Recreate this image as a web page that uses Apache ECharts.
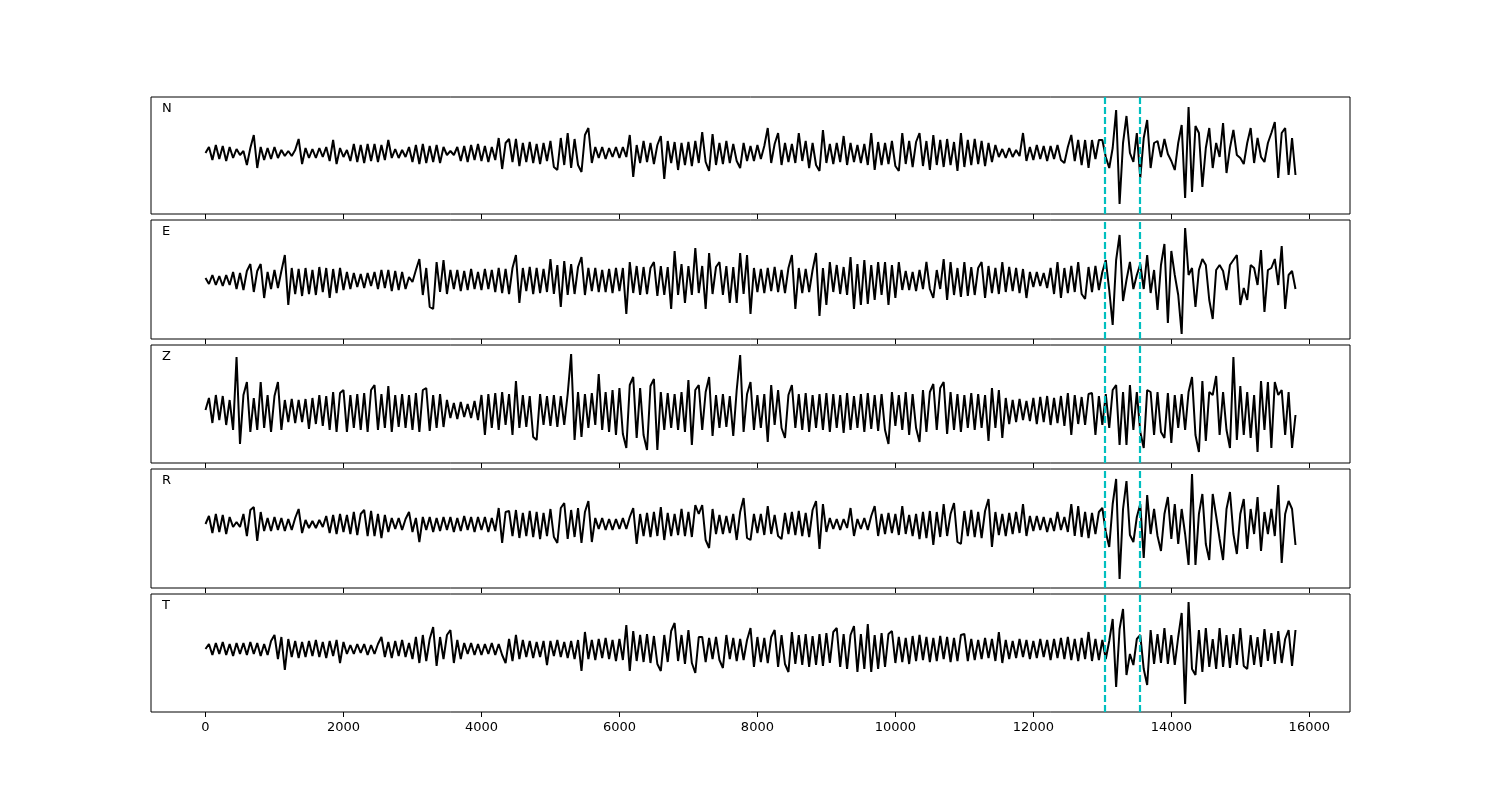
<!DOCTYPE html>
<html><head><meta charset="utf-8">
<script src="https://cdn.jsdelivr.net/npm/echarts@6/dist/echarts.min.js"></script>
<style>html,body{margin:0;padding:0;background:#fff}#chart{width:1500px;height:800px}</style>
</head><body><div id="chart"></div>
<script>
const componentNames = ['N', 'E', 'Z', 'R', 'T'];
const sampleInterval = 50; // time units between samples, first sample at 0
const xTickValues = [0, 2000, 4000, 6000, 8000, 10000, 12000, 14000, 16000];
const pickTimes = [13040, 13540];

const traceN = [
  0, 6, -7, 8, -6, 7, -8, 6, -5, 4,
  -2, 2, -12, 5, 18, -15, 6, -7, 5, -6,
  6, -5, 3, -3, 2, -3, 3, 14, -11, 5,
  -5, 4, -5, 5, -4, 6, -8, 13, -11, 5,
  -4, 3, -8, 9, -9, 8, -10, 9, -8, 9,
  -9, 8, -7, 13, -5, 4, -5, 3, -4, 6,
  -9, 8, -11, 9, -10, 7, -9, 8, -10, 6,
  -2, 2, -2, 6, -8, 7, -9, 8, -7, 9,
  -8, 7, -9, 6, -7, 15, -16, 10, 14, -9,
  14, -13, 10, -9, 11, -10, 9, -11, 10, -8,
  12, -14, -17, 15, -12, 20, -15, 14, -12, -19,
  18, 25, -10, 6, -5, 6, -6, 5, -4, 6,
  -5, 6, -4, 18, -24, 8, -10, 12, -9, 10,
  -11, 8, 17, -26, 12, -10, 11, -17, 10, -12,
  11, -13, 12, -10, 21, -9, -18, 19, -12, 10,
  -11, 12, -10, 9, -8, -15, 10, -8, 7, -8,
  8, -6, 7, 25, -10, 9, 20, -12, 10, -9,
  9, -10, 20, -8, 12, -15, 10, -12, -18, 23,
  -10, 9, -11, 10, -9, 17, -12, 10, -9, 8,
  -10, 9, -12, 20, -17, 11, -12, 10, -11, 12,
  -13, -18, 20, -11, 12, -14, 11, 20, -13, 12,
  -17, 18, -12, 13, -14, 14, -12, 11, -18, 20,
  -14, 13, -12, 14, -11, 12, -13, 10, -9, 8,
  -4, 4, -5, 5, -4, 3, -3, 20, -8, 6,
  -7, 8, -6, 7, -8, 7, -6, 8, -7, -10,
  6, 18, -8, 13, -12, 13, -15, 13, -6, 13,
  13, -4, -15, 5, 43, -51, 10, 37, 0, -9,
  20, -25, 15, 33, -15, 10, 12, -4, 14, -1,
  -8, -17, 10, 28, -45, 46, -39, 27, 20, -34,
  5, 25, -15, 10, -4, 30, -20, 5, 23, -2,
  -5, -11, 10, 25, -10, 15, -4, -9, 10, 20,
  31, -25, 20, 25, -22, 15, -22
];

const traceE = [
  2, -4, 5, -5, 4, -6, 5, -5, 8, -9,
  7, -10, 9, 16, -12, 9, 16, -18, 8, -9,
  10, -8, 9, 25, -25, 12, -14, 11, -16, 12,
  -14, 10, -15, 13, -12, 12, -18, 11, -13, 12,
  -10, 8, -9, 7, -7, 6, -8, 7, -6, 8,
  -9, 10, -8, 10, -11, 9, -10, 8, -9, 3,
  -2, 10, 21, -15, 12, -27, -29, 18, -12, 20,
  -14, 10, -9, 10, -11, 9, -10, 11, -9, 8,
  -10, 11, -9, 10, -12, 12, -13, 11, -14, 12,
  25, -23, 12, -11, 13, -14, 12, -13, 11, -12,
  21, -14, 15, -27, 19, -15, 16, -14, 13, 23,
  -15, 12, -11, 12, -12, 10, -12, 11, -13, 12,
  -11, 12, -34, 18, -13, 14, -15, 13, -14, 12,
  18, -16, 14, -15, 13, -29, 29, -15, 16, -23,
  14, -15, 32, -13, 14, -29, 27, -14, 13, 18,
  -15, 14, -23, 13, -23, 27, -14, 25, -34, 12,
  -12, 11, -13, 12, -11, 13, -12, 10, -13, 12,
  25, -29, 12, -13, 11, -12, 10, 27, -36, 12,
  -25, 18, -12, 15, -14, 13, -15, 23, -29, 16,
  -25, 20, -24, 15, -20, 18, -15, 18, -25, 15,
  -18, 18, -10, 9, -10, 8, -11, 10, -9, 18,
  -9, -18, 10, -9, 21, -20, 18, -15, 12, -17,
  18, -16, 13, -15, 12, 18, -18, 14, -13, 12,
  -14, 18, -12, 13, -11, 12, -13, 11, -18, 8,
  -7, 8, -6, 7, -8, 12, -14, 18, -18, 12,
  -13, 14, -12, 18, -14, -19, 13, -12, 14, -10,
  8, 20, -10, -45, 20, 45, -21, 0, 18, -9,
  5, 16, -9, 25, -13, 10, -30, 15, 36, -43,
  29, 5, -15, -54, 52, 5, 12, -27, 10, 21,
  15, -20, -39, 10, 15, 9, -10, 15, 20, 25,
  -25, -8, -20, 15, 12, -5, 30, -32, 10, 12,
  21, -5, 34, -29, 5, 9, -9
];

const traceZ = [
  0, 12, -13, 15, -10, 14, -15, 10, -20, 53,
  -34, 15, 28, -22, 12, -20, 28, -18, 15, -22,
  14, 28, -20, 10, -12, 11, -13, 10, -12, 11,
  -19, 12, -14, 15, -16, 14, -20, 18, -22, 17,
  20, -22, 15, -18, 16, -20, 17, -22, 20, 25,
  -20, 16, -18, 24, -22, 15, -17, 16, -18, 15,
  -20, 17, -22, 20, 22, -21, 15, -18, 16, -17,
  10, -8, 7, -9, 8, -7, 6, -8, 9, -10,
  15, -25, 16, -18, 17, -20, 18, -15, 16, -25,
  29, -18, 15, -17, 14, -27, -30, 16, -15, 14,
  -16, 15, -17, 14, -15, 16, 56, -30, 18, -27,
  16, -18, 17, -15, 36, -20, 18, -22, 20, -25,
  22, -24, -38, 25, 33, -28, 22, -25, -40, 24,
  31, -40, 18, -20, 17, -18, 16, -20, 18, -22,
  30, -35, 20, 25, -20, 18, 33, -26, 15, -18,
  16, -17, 14, -26, 20, 55, -22, 16, 28, -20,
  15, -18, 16, -32, 25, -15, 20, -18, -28, 15,
  25, -18, 16, -20, 17, -22, 15, -18, 16, -20,
  17, -22, 16, -18, 15, -23, 17, -20, 14, -18,
  16, -22, 17, -19, 15, -21, 16, -20, -34, 18,
  -16, 15, -20, 18, -25, 16, -18, -32, 20, -22,
  18, 26, -20, 22, 28, -24, 18, -20, 16, -22,
  15, -18, 17, -20, 16, -18, 15, -31, 22, -18,
  20, -28, 12, -14, 10, -12, 11, -10, 9, -11,
  12, -14, 13, -12, 14, -15, 12, -13, 14, -16,
  17, -25, 15, -14, 13, -15, 16, 17, -25, 14,
  -15, 16, -18, 20, 25, -35, 18, -35, 25, -20,
  18, -22, -38, 20, 18, -25, 18, -22, -28, 17,
  -33, 15, -18, 16, -20, 18, 33, -25, -42, 29,
  -31, 18, 15, 34, -25, 18, -20, -38, 53, -30,
  24, -25, 18, -28, 15, -42, 29, -20, 28, -38,
  28, 15, 20, -25, 18, -38, -5
];

const traceR = [
  0, 8, -9, 10, -8, 9, -10, 7, -3, 2,
  -3, 10, -12, 14, 17, -17, 12, -7, 6, -7,
  7, -6, 6, -7, 5, -6, 6, 15, -9, 4,
  -4, 3, -4, 4, -3, 8, -9, 9, -10, 10,
  -8, 9, -10, 12, -11, 10, 14, -12, 13, -12,
  10, -14, 9, -8, 6, -5, 6, -6, 5, 12,
  -8, 6, -18, 7, -6, 7, -8, 6, -7, 7,
  -6, 7, -8, 6, -7, 8, -6, 7, -8, 7,
  -6, 7, -8, 6, -7, 16, -19, 12, 13, -12,
  14, -14, 11, -12, 13, -13, 12, -15, 11, -12,
  15, -13, -19, 16, 21, -15, 14, -13, 16, -19,
  12, 23, -18, 6, -5, 6, -6, 5, -6, 5,
  -5, 6, -5, 7, 16, -20, 10, -12, 11, -13,
  12, -12, 17, -16, 11, -12, 10, -11, 15, -12,
  12, -13, 19, 10, 19, -16, -24, 15, -10, 9,
  -10, 8, -9, 10, -16, 12, 26, -14, -16, 10,
  -9, 10, -11, 18, -10, 9, -12, -15, 11, -10,
  12, -11, 13, -12, 11, -13, 14, 23, -25, 20,
  -8, 6, -5, 5, -6, 5, -4, 16, -12, 5,
  -5, 6, -6, 8, 18, -12, 10, -10, 11, -9,
  10, -11, 18, -10, 9, -12, 10, -15, 12, -14,
  13, -21, 12, -13, 20, -12, 10, 21, -18, -20,
  13, -12, 14, -13, 12, -14, 13, 25, -23, 12,
  -11, 10, -12, 11, -10, 12, -9, 20, -12, 8,
  -7, 8, -6, 7, -8, 6, -7, 12, -6, 7,
  -8, 20, -12, 18, -13, 12, -14, 11, -10, 12,
  16, -8, -23, 20, 45, -55, 15, 43, -11, -18,
  7, 20, -34, 29, -10, 15, -12, -27, 10, 27,
  -15, 20, -20, 15, -10, -41, 50, -41, 10, 30,
  -20, -36, 30, 8, -15, -36, 15, 32, -10, -30,
  10, 25, -25, 15, -10, 27, -27, 12, -10, 15,
  -12, 39, -39, 10, 23, 15, -21
];

const traceT = [
  0, 5, -6, 6, -5, 7, -6, 5, -7, 6,
  -5, 6, -6, 7, -5, 6, -7, 5, -6, 8,
  14, -10, 12, -21, 10, -8, 8, -9, 7, -8,
  8, -7, 9, -8, 7, -9, 8, -7, 9, -14,
  7, -5, 4, -5, 5, -4, 5, -6, 4, -5,
  5, 12, -8, 7, -9, 8, -7, 9, -8, 6,
  -10, 12, -14, 14, -12, 10, 22, -17, 12, -10,
  14, 19, -14, 9, -10, 6, -5, 6, -6, 5,
  -6, 5, -5, 6, -6, 5, -6, -14, 10, -12,
  14, -10, 9, -8, 8, -9, 7, -8, 8, -16,
  8, -7, 9, -8, 7, -9, 8, -10, 9, -22,
  17, -10, 9, -11, 10, -9, 11, -10, 9, -12,
  10, -11, 24, -22, 18, -12, 14, -13, 15, -14,
  13, -15, -22, 14, -13, 18, 26, -12, 14, -15,
  19, -14, -24, 12, 12, -13, 11, -10, 12, -11,
  -19, 14, -10, 11, -12, 10, -11, 9, 21, -18,
  12, -13, 11, -14, 12, 19, -18, 14, -15, -23,
  17, -15, 14, -16, 15, -18, 13, -16, 15, -17,
  16, -14, 17, 21, -18, 15, -20, 14, 23, -23,
  15, -20, 25, -23, 14, -20, 16, -18, 15, 18,
  -14, 12, -13, 11, -15, 13, -12, 14, -11, 12,
  -13, 11, -12, 13, -10, 12, -13, 11, -12, 14,
  15, -12, 10, -11, 9, -10, 11, -9, 10, -12,
  17, -14, 9, -10, 8, -9, 10, -8, 9, -10,
  8, -9, 10, -8, 9, -11, 10, -9, 11, -10,
  12, -11, 10, -12, 11, -10, 17, -12, 10, -11,
  9, -10, 8, 30, -38, 20, 40, -26, -5, -16,
  10, 14, -20, -36, 19, -15, 15, -14, 21, -15,
  14, -16, 12, 36, -55, 47, -20, -26, 19, -23,
  21, -18, 10, -20, 21, -18, 14, -19, 15, -16,
  21, -17, -20, 14, -16, 12, -18, 20, -12, 16,
  -15, 18, -14, 10, 19, -17, 19
];

const traces = [traceN, traceE, traceZ, traceR, traceT];

// panel layout (pixels) and vertical limits of each panel
const panels = [
  { top: 97,  height: 117, yMin: -61, yMax: 56 },
  { top: 220, height: 119, yMin: -59, yMax: 60 },
  { top: 345, height: 118, yMin: -53, yMax: 65 },
  { top: 469, height: 119, yMin: -64, yMax: 55 },
  { top: 594, height: 118, yMin: -63, yMax: 55 }
];
const xMin = -790, xMax = 16590;
const gridLeft = 151, gridWidth = 1199;

const chart = echarts.init(document.getElementById('chart'), null, { renderer: 'canvas' });

const grid = [], xAxis = [], yAxis = [], series = [], graphic = [];
panels.forEach((p, k) => {
  grid.push({ left: gridLeft, top: p.top, width: gridWidth, height: p.height,
    show: true, borderColor: '#000', borderWidth: 1, backgroundColor: 'transparent', containLabel: false });
  const last = k === panels.length - 1;
  xAxis.push({
    gridIndex: k, type: 'value', min: xMin, max: xMax, position: 'bottom',
    axisLine: { show: false, onZero: false },
    splitLine: { show: false },
    axisTick: { show: true, inside: false, length: 5, customValues: xTickValues,
      lineStyle: { color: '#000', width: 1 } },
    axisLabel: { show: last, customValues: xTickValues, margin: 9, color: '#000',
      fontSize: 13, fontFamily: 'DejaVu Sans', formatter: v => String(v) }
  });
  yAxis.push({ gridIndex: k, type: 'value', min: p.yMin, max: p.yMax, show: false,
    splitLine: { show: false } });
  const data = traces[k].map((v, i) => [i * sampleInterval, v]);
  series.push({
    type: 'line', xAxisIndex: k, yAxisIndex: k, data: data,
    showSymbol: false, symbol: 'none', smooth: false, animation: false,
    lineStyle: { color: '#000', width: 2 },
    z: 2,
    markLine: {
      silent: true, symbol: ['none', 'none'], animation: false,
      label: { show: false },
      lineStyle: { color: '#00bfbf', type: [7, 3], width: 2.2 },
      data: pickTimes.map(t => ({ xAxis: t }))
    }
  });
  graphic.push({ type: 'text', left: 162, top: p.top + 5,
    style: { text: componentNames[k], fill: '#000', fontSize: 13, fontFamily: 'DejaVu Sans' } });
});

chart.setOption({ backgroundColor: '#fff', animation: false, grid, xAxis, yAxis, series, graphic });
</script>
</body></html>
